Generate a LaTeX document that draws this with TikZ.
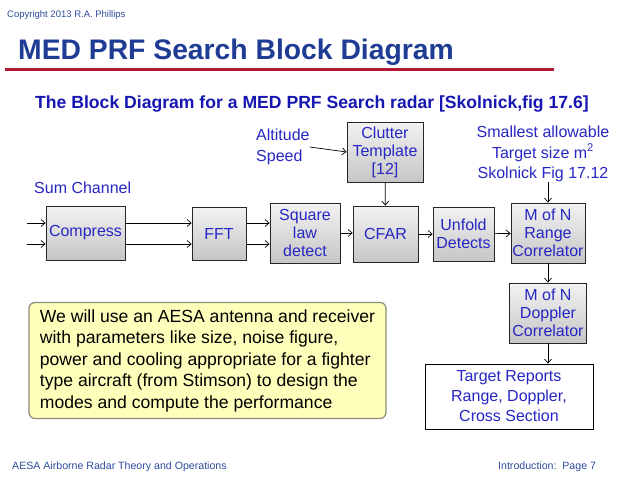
\documentclass[tikz,border=0pt]{standalone}
\usepackage{fontspec}
\setmainfont{Liberation Sans}
\usetikzlibrary{positioning,arrows.meta}
\definecolor{titleblue}{RGB}{31,60,148}
\definecolor{subblue}{RGB}{22,22,178}
\definecolor{boxblue}{RGB}{38,38,196}
\definecolor{footblue}{RGB}{45,75,155}
\definecolor{notefill}{RGB}{255,255,188}
\definecolor{notedraw}{RGB}{140,140,120}
\definecolor{redline}{RGB}{178,24,52}

\begin{document}
\begin{tikzpicture}[x=1pt,y=-1pt, >={Straight Barb[length=4pt,width=7pt]},
		blk/.style={draw=black!85, line width=0.8pt, top color=gray!10, bottom color=gray!45, text=boxblue, align=center, inner sep=0pt, font=\fontsize{16}{18}\selectfont},
		lbl/.style={text=boxblue, inner sep=0pt, font=\fontsize{16}{20.5}\selectfont},
		foot/.style={text=footblue, inner sep=0pt, anchor=base west, font=\fontsize{10.6}{12}\selectfont}]
			\useasboundingbox (0,0) rectangle (638,479);
			% headings
			\node[foot, font=\fontsize{9.5}{11}\selectfont] (copy) at (7,17) {Copyright 2013 R.A. Phillips};
			\node[anchor=base west, inner sep=0pt, text=titleblue, font=\fontsize{28.3}{30}\selectfont\bfseries] (title) at (18,59) {MED PRF Search Block Diagram};
			\draw[redline, line width=3pt] (5,69) -- (554,69);
			\node[anchor=base west, inner sep=0pt, text=subblue, font=\fontsize{17.6}{20}\selectfont\bfseries] (sub) at (35,108) {The Block Diagram for a MED PRF Search radar [Skolnick,fig 17.6]};
			% labels
			\node[lbl, anchor=west, align=left] (alt) at (256,147) {Altitude\\Speed};
			\node[lbl, align=center] (size) at (543,154) {Smallest allowable\\Target size m\textsuperscript{2}\\Skolnick Fig 17.12};
			\node[lbl, anchor=west] (sum) at (34,188) {Sum Channel};
			% blocks
			\node[blk, minimum width=79, minimum height=54] (compress) at (85.5,233) {Compress};
			\node[blk, minimum width=54, minimum height=53] (fft) at (219,233.5) {FFT};
			\node[blk, minimum width=70, minimum height=60] (sqlaw) at (305,233) {Square\\law\\detect};
			\node[blk, minimum width=76, minimum height=60] (clutter) at (385,152) {Clutter\\Template\\{[12]}};
			\node[blk, minimum width=65, minimum height=56] (cfar) at (385.5,234) {CFAR};
			\node[blk, minimum width=61, minimum height=54] (unfold) at (463.5,234) {Unfold\\Detects};
			\node[blk, minimum width=74, minimum height=60] (range) at (548,233) {M of N\\Range\\Correlator};
			\node[blk, minimum width=77, minimum height=60] (doppler) at (548,313) {M of N\\Doppler\\Correlator};
			\node[draw=black, line width=0.8pt, fill=white, text=boxblue, align=center, inner sep=0pt, minimum width=168, minimum height=65, font=\fontsize{16}{20}\selectfont] (reports) at (509,396.5) {Target Reports\\Range, Doppler,\\Cross Section};
			\node[draw=notedraw, line width=1.2pt, fill=notefill, rounded corners=6pt, minimum width=357, minimum height=116, align=left, inner sep=0pt, font=\fontsize{17.6}{21.5}\selectfont] (note) at (207.5,360.5) {We will use an AESA antenna and receiver\\with parameters like size, noise figure,\\power and cooling appropriate for a fighter\\type aircraft (from Stimson) to design the\\modes and compute the performance};
			% footer
			\node[foot] (foottxt) at (12,469) {AESA Airborne Radar Theory and Operations};
			\node[foot] (page) at (498,469) {Introduction:\ \ Page 7};
			% connectors
			\coordinate (ina) at (27,223);
			\coordinate (inb) at (27,244);
			\path[->, line width=0.7pt]
			(ina) edge (ina -| compress.west)
			(inb) edge (inb -| compress.west)
			(ina -| compress.east) edge (ina -| fft.west)
			(inb -| compress.east) edge (inb -| fft.west)
			(ina -| fft.east) edge (ina -| sqlaw.west)
			(inb -| fft.east) edge (inb -| sqlaw.west)
			(sqlaw.east) edge (sqlaw.east -| cfar.west)
			(alt.east) edge (clutter.west)
			(clutter) edge (cfar)
			(cfar) edge (unfold)
			(unfold) edge (range)
			(size.south -| range.north) edge (range.north)
			(range) edge (doppler)
			(doppler.south) edge (doppler.south |- reports.north);
		\end{tikzpicture}
\end{document}
